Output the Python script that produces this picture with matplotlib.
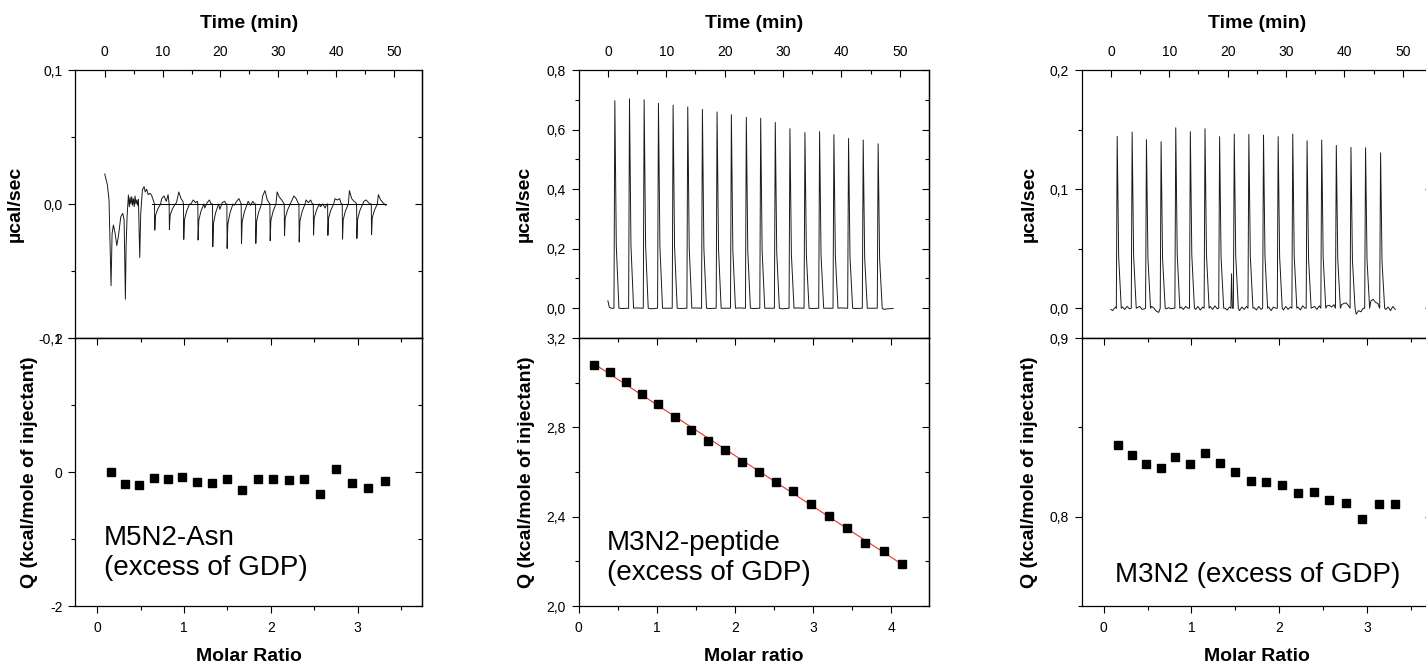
import matplotlib.pyplot as plt
import numpy as np
from matplotlib.ticker import FixedLocator, FuncFormatter, NullFormatter

plt.rcParams["font.family"] = ["Liberation Sans", "DejaVu Sans"]

# ---------------- M5N2-Asn (left panel) ----------------
# raw trace, first minutes (read point by point)
P1_EARLY_T = [0.0, 0.46, 0.74, 1.09, 1.27, 1.5, 1.8, 2.08, 2.37, 2.77, 3.12, 3.35, 3.57, 3.69,
              3.86, 4.09, 4.25, 4.38, 4.52, 4.67, 4.8, 4.96, 5.1, 5.24, 5.4, 5.53, 5.7, 5.82,
              6.05, 6.22, 6.51, 6.8, 7.0, 7.26, 7.5, 7.84, 8.1]
P1_EARLY_V = [0.0224, 0.0142, 0.003, -0.061, -0.022, -0.0157, -0.022, -0.031, -0.024, -0.0095,
              -0.007, -0.012, -0.071, -0.032, -0.0095, 0.0067, -0.002, 0.005, 0.0, 0.0055,
              -0.001, 0.004, -0.002, 0.006, 0.0, 0.003, -0.001, 0.0035,
              -0.040, -0.007, 0.0105, 0.013, 0.009, 0.011, 0.007, 0.008, 0.0065]
# injection spikes (downward)
P1_PEAK_T = [8.65, 11.18, 13.66, 16.14, 18.68, 21.16, 23.64, 26.12, 28.60, 31.08, 33.62, 36.10,
             38.58, 41.11, 43.59, 46.13]
P1_PEAK_V = [-0.0195, -0.019, -0.0264, -0.0269, -0.0319, -0.0332, -0.0294, -0.0294, -0.0274,
             -0.0237, -0.0284, -0.0232, -0.0234, -0.0262, -0.0257, -0.0229]
# baseline between spikes
P1_BASE_T = [9.85, 10.25, 10.65, 10.95, 12.4, 12.8, 13.2, 13.5, 14.9, 15.3, 15.7, 16.0,
             17.3, 17.7, 18.1, 18.4, 19.9, 20.3, 20.7, 21.0, 22.4, 22.8, 23.2, 23.5,
             24.8, 25.2, 25.6, 25.9, 27.3, 27.7, 28.1, 28.4, 29.8, 30.2, 30.6, 30.9,
             32.3, 32.7, 33.1, 33.4, 34.8, 35.2, 35.6, 35.9, 37.3, 37.7, 38.1, 38.4,
             39.8, 40.2, 40.6, 40.9, 42.3, 42.7, 43.1, 43.4, 44.8, 45.2, 45.6, 45.9,
             47.3, 47.7, 48.1, 48.6]
P1_BASE_V = [0.004, 0.006, 0.002, 0.007, 0.001, 0.009, 0.004, 0.002, 0.0, 0.003, 0.001, 0.002,
             -0.003, 0.001, 0.003, 0.0, -0.004, 0.001, 0.002, 0.0, -0.001, 0.002, 0.004, 0.001,
             0.002, -0.001, 0.002, 0.0, 0.006, 0.010, 0.003, 0.001, 0.009, 0.005, 0.003, 0.001,
             0.002, 0.006, 0.004, 0.001, 0.003, 0.001, 0.003, 0.0, -0.002, 0.0, -0.003, 0.0,
             0.004, 0.003, 0.004, 0.0, 0.010, 0.004, 0.002, 0.001, 0.002, 0.003, 0.001, 0.0,
             0.007, 0.003, 0.001, -0.001]
P1_FIT_T = [8.1, 48.6]
P1_FIT_V = [0.0, 0.0]
P1_RATIO = [0.158, 0.319, 0.485, 0.65, 0.82, 0.98, 1.153, 1.327, 1.496, 1.672, 1.846, 2.023,
            2.207, 2.384, 2.569, 2.753, 2.938, 3.122, 3.315]
P1_Q = [-0.005, -0.18, -0.19, -0.085, -0.11, -0.07, -0.155, -0.16, -0.11, -0.275, -0.10, -0.10,
        -0.115, -0.10, -0.335, 0.045, -0.165, -0.245, -0.14]

# ---------------- M3N2-peptide (middle panel) ----------------
P2_PEAK_T = [1.19, 3.70, 6.21, 8.66, 11.17, 13.68, 16.19, 18.70, 21.15, 23.71, 26.17, 28.67,
             31.18, 33.75, 36.26, 38.71, 41.22, 43.73, 46.29]
P2_PEAK_V = [0.697, 0.703, 0.700, 0.688, 0.682, 0.676, 0.668, 0.659, 0.650, 0.641, 0.638, 0.624,
             0.603, 0.590, 0.593, 0.583, 0.570, 0.565, 0.552]
P2_BASE_T = [0.0, 0.25, 0.6, 2.4, 4.9, 7.4, 9.9, 12.4, 14.9, 17.4, 19.9, 22.4, 24.9, 27.4, 29.9,
             32.4, 34.9, 37.4, 39.9, 42.4, 44.9, 47.3, 47.8, 48.86]
P2_BASE_V = [0.025, 0.003, 0.0, -0.001, 0.001, -0.002, 0.0, -0.001, 0.001, -0.001, 0.0, 0.001,
             -0.001, 0.0, -0.002, 0.001, -0.001, 0.0, 0.001, -0.001, 0.0, -0.004, -0.002, -0.001]
P2_RATIO = [0.2, 0.401, 0.602, 0.811, 1.016, 1.233, 1.438, 1.656, 1.869, 2.091, 2.309, 2.527,
            2.749, 2.975, 3.205, 3.436, 3.670, 3.905, 4.14]
P2_Q = [3.080, 3.046, 3.001, 2.950, 2.903, 2.846, 2.789, 2.738, 2.699, 2.645, 2.598, 2.557,
        2.514, 2.457, 2.403, 2.348, 2.284, 2.246, 2.188]

# ---------------- M3N2 (right panel) ----------------
P3_PEAK_T = [1.08, 3.64, 6.09, 8.60, 11.11, 13.61, 16.12, 18.62, 21.13, 23.63, 26.14, 28.65,
             31.15, 33.60, 36.11, 38.61, 41.12, 43.62, 46.19]
P3_PEAK_V = [0.1443, 0.1479, 0.1415, 0.1398, 0.1515, 0.1482, 0.1507, 0.1440, 0.1462, 0.1459,
             0.1454, 0.1440, 0.1462, 0.1406, 0.1412, 0.1367, 0.1350, 0.1347, 0.1305]
P3_BASE_T = [0.0, 0.3, 0.6, 0.9, 1.98, 2.38, 2.78, 3.18, 4.54, 4.94, 5.34, 5.74,
             6.99, 7.39, 7.79, 8.19, 9.5, 9.9, 10.3, 10.7, 12.01, 12.41, 12.81, 13.21,
             14.51, 14.91, 15.31, 15.71, 17.02, 17.42, 17.82, 18.22,
             19.52, 19.92, 20.32, 20.55, 20.67, 20.8,
             22.03, 22.43, 22.83, 23.23, 24.53, 24.93, 25.33, 25.73, 27.04, 27.44, 27.84, 28.24,
             29.55, 29.95, 30.35, 30.75, 32.05, 32.45, 32.85, 33.25, 34.5, 34.9, 35.3, 35.7,
             37.01, 37.41, 37.81, 38.21, 39.51, 39.91, 40.31, 40.71, 42.02, 42.42, 42.82, 43.22,
             44.52, 44.92, 45.32, 45.72, 47.09, 47.49, 47.89, 48.29, 48.7]
P3_BASE_V = [-0.001, -0.002, 0.0, 0.001, 0.001, -0.001, 0.0015, -0.0005, 0.0005, 0.0015, -0.001, -0.0005,
             0.0015, 0.0, -0.0025, -0.0035, -0.0005, 0.0005, -0.0005, 0.0, 0.001, -0.001, 0.0015, 0.0,
             -0.001, 0.0015, -0.0015, 0.001, 0.0015, -0.001, 0.002, -0.0005,
             0.0, -0.0015, 0.001, 0.0, 0.029, 0.0,
             -0.002, 0.001, -0.001, 0.0015, 0.0005, -0.0015, 0.0015, -0.001, 0.001, -0.002, 0.001, 0.0,
             -0.0015, 0.0015, -0.001, 0.001, 0.001, -0.0015, 0.002, 0.0, 0.0005, 0.0015, -0.001, 0.002,
             0.002, 0.0025, 0.001, 0.003, 0.003, 0.004, 0.0045, 0.002, -0.005, -0.002, -0.003, 0.0,
             0.006, 0.0075, 0.005, 0.004, -0.001, 0.001, -0.002, 0.0015, -0.001]
P3_RATIO = [0.160, 0.323, 0.487, 0.650, 0.817, 0.985, 1.156, 1.327, 1.498, 1.677, 1.852, 2.030,
            2.209, 2.392, 2.570, 2.757, 2.943, 3.133, 3.323]
P3_Q = [0.8401, 0.8347, 0.8295, 0.8271, 0.8336, 0.8293, 0.8354, 0.8299, 0.8248, 0.8200, 0.8196,
        0.8177, 0.8132, 0.8136, 0.8093, 0.8078, 0.7989, 0.8071, 0.8069]

LABELS = ["M5N2-Asn\n(excess of GDP)", "M3N2-peptide\n(excess of GDP)", "M3N2 (excess of GDP)"]
XLABELS = ["Molar Ratio", "Molar ratio", "Molar Ratio"]


def trace_with_spikes(base_t, base_v, peak_t, peak_v, shape):
    """Merge baseline points with spike points (offset, fraction of peak) and sort by time."""
    t = list(base_t)
    v = list(base_v)
    for pt, pv in zip(peak_t, peak_v):
        for dt, frac in shape:
            t.append(pt + dt)
            v.append(pv * frac)
    order = np.argsort(t)
    return np.asarray(t)[order], np.asarray(v)[order]


def comma(decimals):
    return FuncFormatter(lambda val, pos: f"{round(val, 6) + 0.0:.{decimals}f}".replace(".", ","))


def style_axes(ax, xmaj, xmin, xdec, ymaj, ymin, ydec, top_panel):
    ax.xaxis.set_major_locator(FixedLocator(xmaj))
    ax.xaxis.set_minor_locator(FixedLocator(xmin))
    ax.yaxis.set_major_locator(FixedLocator(ymaj))
    ax.yaxis.set_minor_locator(FixedLocator(ymin))
    ax.xaxis.set_major_formatter(comma(xdec))
    ax.yaxis.set_major_formatter(comma(ydec))
    for s in ax.spines.values():
        s.set_linewidth(0.9)
    ax.tick_params(which="both", width=0.8, labelsize=10, colors="black")
    ax.tick_params(which="major", length=5.2)
    ax.tick_params(which="minor", length=3)
    ax.tick_params(axis="y", which="both", direction="out", left=True, right=False, pad=4)
    if top_panel:
        ax.tick_params(axis="x", which="both", direction="in", top=True, bottom=False,
                       labeltop=True, labelbottom=False, pad=8)
    else:
        ax.tick_params(axis="x", which="both", direction="out", bottom=True, top=False, pad=5.5)
        sec = ax.secondary_xaxis("top")
        sec.xaxis.set_major_locator(FixedLocator(xmaj))
        sec.xaxis.set_minor_locator(FixedLocator(xmin))
        sec.xaxis.set_major_formatter(NullFormatter())
        sec.tick_params(which="both", direction="in", width=0.8)
        sec.tick_params(which="major", length=5.2)
        sec.tick_params(which="minor", length=3)
        sec.spines["top"].set_linewidth(0.9)
    sec_y = ax.secondary_yaxis("right")
    sec_y.yaxis.set_major_locator(FixedLocator(ymaj))
    sec_y.yaxis.set_minor_locator(FixedLocator(ymin))
    sec_y.yaxis.set_major_formatter(NullFormatter())
    sec_y.tick_params(which="both", direction="in", width=0.8)
    sec_y.tick_params(which="major", length=5.2)
    sec_y.tick_params(which="minor", length=3)
    sec_y.spines["right"].set_linewidth(0.9)


fig = plt.figure(figsize=(14.26, 6.66), dpi=100)

lefts = [75.3 / 1426, 578.7 / 1426, 1081.7 / 1426]
widths = [347 / 1426, 350.3 / 1426, 350.3 / 1426]
top_y, mid_y, bot_y = 1 - 70 / 666, 1 - 338 / 666, 1 - 606 / 666

up_spike = [(-0.15, 0.0), (0.0, 1.0), (0.25, 0.3), (0.7, 0.0)]
down_spike = [(-0.05, 0.0), (0.0, 1.0), (0.12, 0.45), (0.5, 0.2), (1.0, 0.0)]

traces = [
    trace_with_spikes(P1_EARLY_T + P1_BASE_T, P1_EARLY_V + P1_BASE_V, P1_PEAK_T, P1_PEAK_V, down_spike),
    trace_with_spikes(P2_BASE_T, P2_BASE_V, P2_PEAK_T, P2_PEAK_V, up_spike),
    trace_with_spikes(P3_BASE_T, P3_BASE_V, P3_PEAK_T, P3_PEAK_V, up_spike),
]
binding = [(P1_RATIO, P1_Q), (P2_RATIO, P2_Q), (P3_RATIO, P3_Q)]

top_ylims = [(-0.1, 0.1), (-0.1, 0.8), (-0.025, 0.2)]
top_xlims = [(-5.09, 54.9), (-5.0, 55.0), (-5.0, 55.0)]
top_yticks = [([-0.1, 0.0, 0.1], [-0.05, 0.05], 1),
              ([0.0, 0.2, 0.4, 0.6, 0.8], [-0.1, 0.1, 0.3, 0.5, 0.7], 1),
              ([0.0, 0.1, 0.2], [0.05, 0.15], 1)]
bot_ylims = [(-2, 2), (2.0, 3.2), (0.75, 0.9)]
bot_xlims = [(-0.254, 3.745), (0.0, 4.485), (-0.25, 3.74)]
bot_yticks = [([-2, 0, 2], [-1, 1], 0),
              ([2.0, 2.4, 2.8, 3.2], [2.2, 2.6, 3.0], 1),
              ([0.8, 0.9], [0.75, 0.85], 1)]
bot_xticks = [([0, 1, 2, 3], [0.5, 1.5, 2.5, 3.5]),
              ([0, 1, 2, 3, 4], [0.5, 1.5, 2.5, 3.5, 4.5]),
              ([0, 1, 2, 3], [0.5, 1.5, 2.5, 3.5])]
ylab_x_top = [-0.148, -0.13, -0.125]
ylab_x_bot = [-0.107, -0.125, -0.125]
text_pos = [(0.083, 0.116), (0.08, 0.097), (0.095, 0.09)]

for i in range(3):
    # raw heat flow (top)
    ax_t = fig.add_axes([lefts[i], mid_y, widths[i], top_y - mid_y])
    t, v = traces[i]
    ax_t.plot(t, v, color="#1a1a1a", lw=0.7)
    if i == 0:
        ax_t.plot(P1_FIT_T, P1_FIT_V, color="black", lw=0.7)
    ax_t.set_xlim(*top_xlims[i])
    ax_t.set_ylim(*top_ylims[i])
    ymaj, ymin, ydec = top_yticks[i]
    style_axes(ax_t, list(range(0, 51, 10)), list(range(5, 50, 10)), 0, ymaj, ymin, ydec, True)
    ax_t.xaxis.set_label_position("top")
    ax_t.set_xlabel("Time (min)", fontsize=14, fontweight="bold")
    ax_t.xaxis.set_label_coords(0.5, 1.157)
    ax_t.set_ylabel("µcal/sec", fontsize=14, fontweight="bold")
    ax_t.yaxis.set_label_coords(ylab_x_top[i], 0.5)

    # integrated heats (bottom)
    ax_b = fig.add_axes([lefts[i], bot_y, widths[i], mid_y - bot_y])
    x, q = binding[i]
    if i == 1:
        slope, intercept = np.polyfit(x, q, 1)
        xs = np.array([x[0], x[-1]])
        ax_b.plot(xs, slope * xs + intercept, color="#e8322e", lw=0.8, zorder=2)
    ax_b.plot(x, q, ls="none", marker="s", ms=5.5, color="black", mec="black", zorder=3)
    ax_b.set_xlim(*bot_xlims[i])
    ax_b.set_ylim(*bot_ylims[i])
    ymaj, ymin, ydec = bot_yticks[i]
    xmaj, xmin = bot_xticks[i]
    style_axes(ax_b, xmaj, xmin, 0, ymaj, ymin, ydec, False)
    ax_b.set_xlabel(XLABELS[i], fontsize=14, fontweight="bold")
    ax_b.xaxis.set_label_coords(0.5, -0.157)
    ax_b.set_ylabel("Q (kcal/mole of injectant)", fontsize=14, fontweight="bold")
    ax_b.yaxis.set_label_coords(ylab_x_bot[i], 0.5)
    tx, ty = text_pos[i]
    ax_b.text(tx, ty, LABELS[i], transform=ax_b.transAxes, fontsize=20, va="baseline",
              ha="left", linespacing=1.2)

fig.savefig("out.png", dpi=100)
